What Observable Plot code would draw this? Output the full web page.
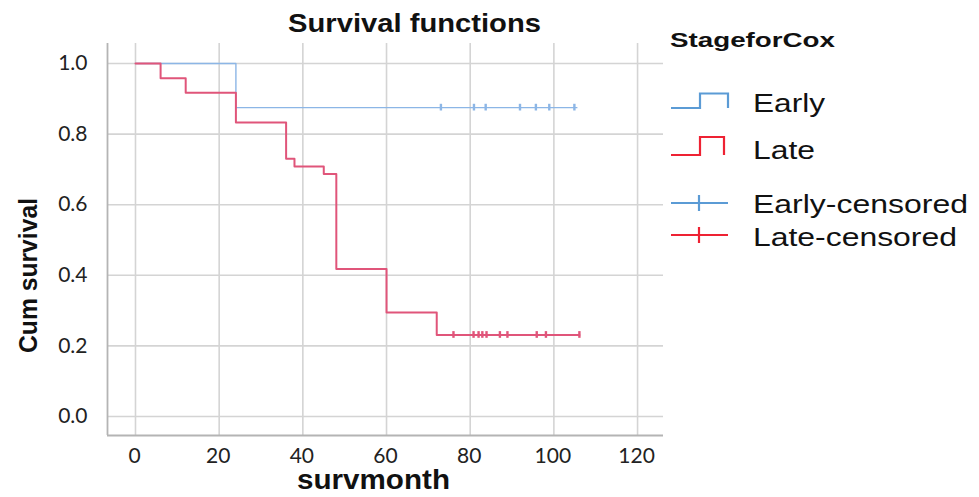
<!DOCTYPE html>
<html>
<head>
<meta charset="utf-8">
<script src="https://cdn.jsdelivr.net/npm/d3@7"></script>
<script src="https://cdn.jsdelivr.net/npm/@observablehq/plot@0.6"></script>
<style>
  html, body { margin: 0; padding: 0; background: #fff; }
  #wrap { position: relative; width: 979px; height: 497px; overflow: hidden; }
  #wrap > svg { position: absolute; left: 0; top: 0; }
</style>
</head>
<body>
<div id="wrap"></div>
<script>
// ---- data ----
const groups = ["Early", "Late"];
const earlyTimes = [0, 24, 105.5];
const earlySurv  = [1.0, 0.875, 0.875];
const lateTimes  = [0, 6, 12, 24, 36, 38, 45, 48, 60, 72, 106.1];
const lateSurv   = [1.0, 0.958, 0.917, 0.833, 0.730, 0.708, 0.687, 0.418, 0.295, 0.231, 0.231];
const earlyCensorTimes = [73.0, 80.9, 83.7, 91.9, 95.7, 98.9, 104.9];
const earlyCensorSurv  = 0.875;
const lateCensorTimes  = [76.0, 80.8, 82.0, 82.9, 83.9, 87.1, 88.9, 95.9, 98.1, 106.1];
const lateCensorSurv   = 0.231;
const xTicks = [0, 20, 40, 60, 80, 100, 120];
const yTicks = [0.0, 0.2, 0.4, 0.6, 0.8, 1.0];
const legendLabels = ["Early", "Late", "Early-censored", "Late-censored"];

const colors = { Early: "#8cb6e6", Late: "#e0557a" };
const legendColors = { Early: "#5b9bd5", Late: "#ee2233" };

const earlyCurve = earlyTimes.map((t, i) => ({ t, s: earlySurv[i], g: "Early" }));
const lateCurve = lateTimes.map((t, i) => ({ t, s: lateSurv[i], g: "Late" }));
const censor = [
  ...earlyCensorTimes.map(t => ({ t, s: earlyCensorSurv, g: "Early" })),
  ...lateCensorTimes.map(t => ({ t, s: lateCensorSurv, g: "Late" }))
];

const xDom = [-6.69, 126.2];
const yDom = [-0.0538, 1.0567];
const half = 0.0095;

const plot = Plot.plot({
  width: 979,
  height: 497,
  marginLeft: 107,
  marginRight: 316,
  marginTop: 43,
  marginBottom: 62,
  style: { fontFamily: "Lato, 'Open Sans', sans-serif", fontSize: "21px", color: "#222", background: "transparent" },
  x: { domain: xDom },
  y: { domain: yDom },
  marks: [
    Plot.gridX(xTicks, { stroke: "#d4d4d4", strokeOpacity: 1, strokeWidth: 1.6 }),
    Plot.gridY(yTicks, { stroke: "#d4d4d4", strokeOpacity: 1, strokeWidth: 1.6 }),
    Plot.ruleX([xDom[0]], { stroke: "#b4b4b4", strokeWidth: 1.8 }),
    Plot.ruleY([yDom[0]], { stroke: "#b4b4b4", strokeWidth: 1.8 }),
    Plot.axisX({ ticks: xTicks, tickSize: 0, tickPadding: 13, label: null, tickFormat: d3.format("d"), fontSize: 21, dx: -1 }),
    Plot.axisY({ ticks: yTicks, tickSize: 0, tickPadding: 20, label: null, tickFormat: d3.format(".1f"), fontSize: 21 }),
    Plot.line(earlyCurve, { x: "t", y: "s", curve: "step-after", stroke: colors.Early, strokeWidth: 1.4 }),
    Plot.line(lateCurve, { x: "t", y: "s", curve: "step-after", stroke: colors.Late, strokeWidth: 2 }),
    Plot.ruleX(censor, { x: "t", y1: d => d.s - half, y2: d => d.s + half, stroke: d => colors[d.g], strokeWidth: 2.4 })
  ]
});
document.getElementById("wrap").appendChild(plot);

// ---- titles and legend overlay ----
const ns = "http://www.w3.org/2000/svg";
const ov = d3.select("#wrap").append("svg")
  .attr("xmlns", ns).attr("width", 979).attr("height", 497)
  .style("font-family", "'Liberation Sans', Arial, sans-serif");

function txt(x, y, s, size, len, bold, extra) {
  const t = ov.append("text").attr("x", x).attr("y", y).text(s)
    .attr("font-size", size).attr("fill", "#111")
    .attr("font-weight", bold ? "bold" : "normal");
  if (len) t.attr("textLength", len).attr("lengthAdjust", "spacingAndGlyphs");
  if (extra) extra(t);
  return t;
}

txt(288, 32, "Survival functions", 26, 253, true);
txt(297, 489, "survmonth", 27, 153, true);
txt(0, 0, "Cum survival", 26, 155, true, t => t.attr("transform", "translate(37,353) rotate(-90)"));

// legend
txt(670, 47, "StageforCox", 21, 165, true);
const lx0 = 671, lxm = 700, lx1 = 728;
const stepSym = (yb, yt, c, x1) => ov.append("path")
  .attr("d", `M${lx0},${yb}H${lxm}V${yt}H${x1}V${yb}`)
  .attr("fill", "none").attr("stroke", c).attr("stroke-width", 2.2);
stepSym(108, 93.5, legendColors.Early, 728);
stepSym(155, 137, legendColors.Late, 724);
const cenSym = (y, c) => {
  ov.append("line").attr("x1", lx0).attr("x2", lx1).attr("y1", y).attr("y2", y).attr("stroke", c).attr("stroke-width", 2.2);
  ov.append("line").attr("x1", 699).attr("x2", 699).attr("y1", y - 8).attr("y2", y + 8).attr("stroke", c).attr("stroke-width", 2.2);
};
cenSym(203, legendColors.Early);
cenSym(235, legendColors.Late);

txt(753, 112, legendLabels[0], 26, 72, false);
txt(753, 159, legendLabels[1], 26, 62, false);
txt(753, 213, legendLabels[2], 26, 215, false);
txt(753, 246, legendLabels[3], 26, 204, false);
</script>
</body>
</html>
